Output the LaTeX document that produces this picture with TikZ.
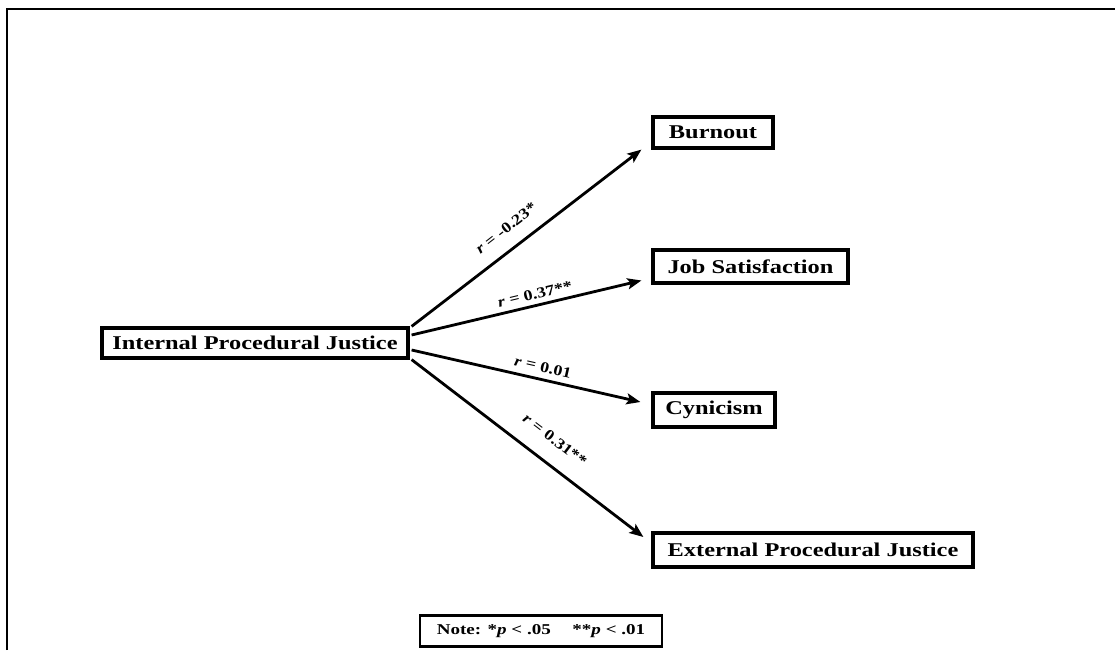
\documentclass[tikz,border=0pt]{standalone}
\usepackage{fontspec}
\setmainfont{Liberation Serif}
\usetikzlibrary{arrows.meta,calc}
\newcommand\sxbox[1]{\scalebox{1.25}[1]{#1}}
\newcommand\snote[1]{\scalebox{1.27}[1]{#1}}
\newcommand\slab[1]{\scalebox{1.2}[1]{#1}}
\begin{document}
\begin{tikzpicture}[x=1pt,y=-1pt,
  box/.style={draw, line width=3.2pt, inner sep=0pt, font=\bfseries\fontsize{19.5}{21}\selectfont},
  notebox/.style={draw, line width=2.8pt, inner sep=0pt, font=\bfseries\fontsize{15}{16}\selectfont},
  arr/.style={line width=2.8pt, -{Stealth[length=14pt,width=11pt,inset=3pt]}},
  lab/.style={inner sep=1pt, font=\bfseries\fontsize{15}{16}\selectfont},
  frame/.style={line width=2.8pt, line join=miter}]
\useasboundingbox (0,0) rectangle (1115,650);
\draw[frame] (7,650) -- (7,9) -- (1115,9);

\node[box, minimum width=306pt, minimum height=30pt] (ipj) at (255,343) {\sxbox{Internal Procedural Justice}};
\node[box, minimum width=120pt, minimum height=31pt] (bo) at (713,132.5) {\sxbox{Burnout}};
\node[box, minimum width=195pt, minimum height=33pt] (js) at (750.5,266.5) {\sxbox{Job Satisfaction}};
\node[box, minimum width=122pt, minimum height=34pt] (cy) at (714,410) {\sxbox{Cynicism}};
\node[box, minimum width=320pt, minimum height=34pt] (epj) at (813,550) {\sxbox{External Procedural Justice}};
\node[notebox, minimum width=242pt, minimum height=31pt] (note) at (541,631) {\snote{Note: *\textit{p} < .05\hspace{17pt}**\textit{p} < .01}};

\draw[arr] ([xshift=2pt]ipj.north east) -- ([xshift=-10pt]bo.south west);
\draw[arr] ($(ipj.east)+(2,-8)$) -- ($(js.west)+(-10,14)$);
\draw[arr] ($(ipj.east)+(2,7)$) -- ($(cy.west)+(-11,-8)$);
\draw[arr] ([xshift=2pt]ipj.south east) -- ($(epj.west)+(-8,-13)$);

\node[lab, rotate=37.9] (l1) at (506,228) {\slab{\textit{r} = -0.23*}};
\node[lab, rotate=13.4] (l2) at (535,294) {\slab{\textit{r} = 0.37**}};
\node[lab, rotate=-12.8] (l3) at (543,367) {\slab{\textit{r} = 0.01}};
\node[lab, rotate=-37.3] (l4) at (555,440) {\slab{\textit{r} = 0.31**}};
\end{tikzpicture}
\end{document}
